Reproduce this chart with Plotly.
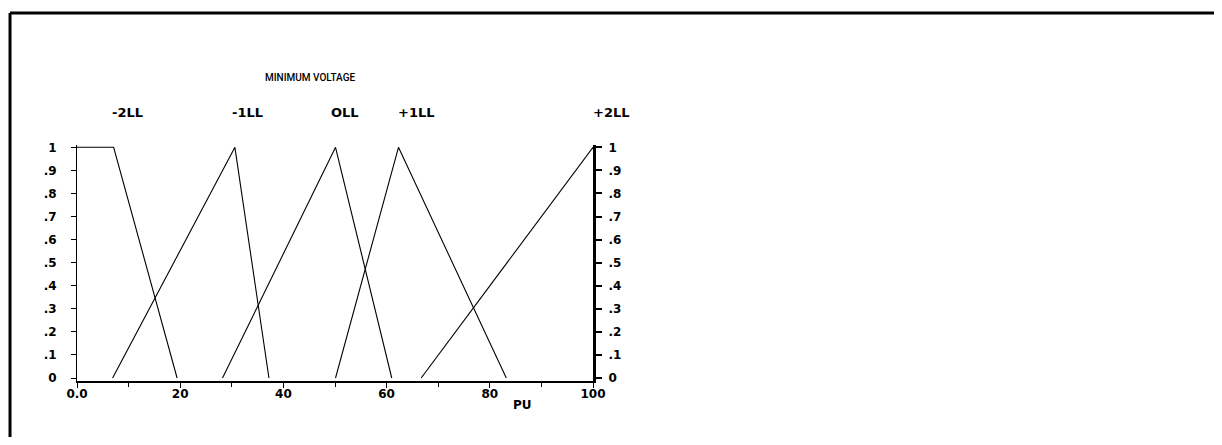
import plotly.graph_objects as go

# ---- data ----
neg2_x = [0, 7.1, 19.4]
neg2_y = [1, 1, 0]
neg1_x = [6.9, 30.6, 37.2]
neg1_y = [0, 1, 0]
zero_x = [28.2, 50.1, 61.0]
zero_y = [0, 1, 0]
pos1_x = [50.1, 62.3, 83.2]
pos1_y = [0, 1, 0]
pos2_x = [66.7, 100]
pos2_y = [0, 1]

set_labels = ["-2LL", "-1LL", "OLL", "+1LL", "+2LL"]
x_tickvals = [0, 20, 40, 60, 80, 100]
x_ticktext = ["0.0", "20", "40", "60", "80", "100"]
x_minor = [10, 30, 50, 70, 90]
y_tickvals = [0, 0.1, 0.2, 0.3, 0.4, 0.5, 0.6, 0.7, 0.8, 0.9, 1]
y_ticktext = ["0", ".1", ".2", ".3", ".4", ".5", ".6", ".7", ".8", ".9", "1"]

# ---- layout constants (paper coordinates) ----
label_pos_x = [0.0969, 0.3295, 0.5194, 0.657, 1.0349]
label_pos_y = 1.137
line_style = dict(color="black", width=1.1)
tick_font = dict(family="DejaVu Sans", size=12, color="black", weight="bold")

fig = go.Figure()
series = [(neg2_x, neg2_y), (neg1_x, neg1_y), (zero_x, zero_y), (pos1_x, pos1_y)]
for sx, sy in series:
    fig.add_trace(go.Scatter(x=sx, y=sy, mode="lines", line=line_style,
                             showlegend=False, hoverinfo="skip"))
fig.add_trace(go.Scatter(x=pos2_x, y=pos2_y, mode="lines", line=line_style,
                         showlegend=False, hoverinfo="skip", yaxis="y2"))

yr = [-0.013, 1.010]

annotations = []
for lab, lx in zip(set_labels, label_pos_x):
    annotations.append(dict(x=lx, y=label_pos_y, xref="paper", yref="paper", text=lab,
                            showarrow=False,
                            font=dict(family="DejaVu Sans", size=13, color="black",
                                      weight="bold"),
                            xanchor="center", yanchor="middle"))
annotations.append(dict(x=0.4516, y=1.285, xref="paper", yref="paper",
                        text="MINIMUM VOLTAGE", showarrow=False,
                        font=dict(family="Roboto", size=10, color="black", weight=500),
                        xanchor="center", yanchor="middle"))
annotations.append(dict(x=0.8634, y=-0.102, xref="paper", yref="paper", text="PU",
                        showarrow=False,
                        font=dict(family="DejaVu Sans", size=12, color="black", weight="bold"),
                        xanchor="center", yanchor="middle"))

shapes = [
    dict(type="line", xref="paper", yref="paper", x0=-0.1298, x1=2.3, y0=1.5593, y1=1.5593,
         line=dict(color="black", width=3)),
    dict(type="line", xref="paper", yref="paper", x0=-0.1298, x1=-0.1298, y0=1.5593, y1=-0.35,
         line=dict(color="black", width=3)),
]

fig.update_layout(
    width=1206, height=429,
    margin=dict(l=69, r=621, t=137, b=56),
    paper_bgcolor="white", plot_bgcolor="white",
    showlegend=False,
    annotations=annotations,
    shapes=shapes,
    xaxis=dict(range=[0, 100], tickvals=x_tickvals, ticktext=x_ticktext,
               ticks="outside", ticklen=5, tickwidth=1, tickcolor="black",
               showline=True, linecolor="black", linewidth=1.5,
               showgrid=False, zeroline=False, tickfont=tick_font,
               ticklabelstandoff=-4,
               minor=dict(tickvals=x_minor, ticks="outside", ticklen=4,
                          tickcolor="black", tickwidth=1, showgrid=False)),
    yaxis=dict(range=yr, tickvals=y_tickvals, ticktext=y_ticktext,
               ticks="outside", ticklen=5, tickwidth=1, tickcolor="black",
               showline=True, linecolor="black", linewidth=1,
               showgrid=False, zeroline=False, tickfont=tick_font,
               ticklabelstandoff=12),
    yaxis2=dict(range=yr, overlaying="y", side="right", tickvals=y_tickvals,
                ticktext=y_ticktext, ticks="outside", ticklen=6, tickwidth=2,
                tickcolor="black", showline=True, linecolor="black", linewidth=3,
                showgrid=False, zeroline=False, tickfont=tick_font,
                ticklabelstandoff=4),
)

fig.write_html("out.html")
